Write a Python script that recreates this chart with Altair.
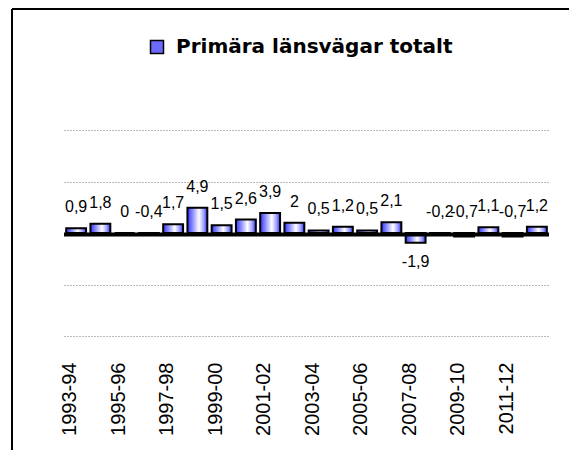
import altair as alt
import pandas as pd

TITLE = "Primära länsvägar totalt"
CATEGORIES = ["1993-94", "1994-95", "1995-96", "1996-97", "1997-98", "1998-99",
              "1999-00", "2000-01", "2001-02", "2002-03", "2003-04", "2004-05",
              "2005-06", "2006-07", "2007-08", "2008-09", "2009-10", "2010-11",
              "2011-12", "2012-13"]
VALUES = [0.9, 1.8, 0, -0.4, 1.7, 4.9, 1.5, 2.6, 3.9, 2, 0.5, 1.2, 0.5, 2.1,
          -1.9, -0.2, -0.7, 1.1, -0.7, 1.2]
GRID_VALUES = [-20, -10, 10, 20]
Y_DOMAIN = [-20, 20]
TICK_LABELS = CATEGORIES[::2]

FONT = "Liberation Sans, Arial, Helvetica, sans-serif"

df = pd.DataFrame({
    "cat": CATEGORIES,
    "v": VALUES,
    "lbl": [f"{v:g}".replace(".", ",") for v in VALUES],
})

base = alt.Chart(df)

x_enc = alt.X(
    "cat:N", sort=CATEGORIES,
    scale=alt.Scale(paddingInner=0.18, paddingOuter=0.09),
    axis=alt.Axis(values=TICK_LABELS, labelAngle=270, labelFont=FONT,
                  labelFontSize=20, labelColor="black", labelPadding=26,
                  labelOffset=-6, labelOverlap=False, ticks=False, domain=False,
                  grid=False, title=None),
)
y_enc = alt.Y(
    "v:Q",
    scale=alt.Scale(domain=Y_DOMAIN, nice=False, zero=True),
    axis=alt.Axis(values=GRID_VALUES, labels=False, ticks=False, domain=False,
                  grid=True, gridDash=[1, 2], gridColor="#777777", gridWidth=1,
                  title=None),
)

grad = alt.Gradient(
    gradient="linear", x1=0, x2=1, y1=0, y2=0,
    stops=[
        alt.GradientStop(color="#3333ff", offset=0),
        alt.GradientStop(color="#9a9aff", offset=0.3),
        alt.GradientStop(color="#ffffff", offset=0.58),
        alt.GradientStop(color="#a0a0ff", offset=0.82),
        alt.GradientStop(color="#3333ff", offset=1),
    ],
)

bars = base.mark_bar(color=grad, stroke="black", strokeWidth=2).encode(
    x=x_enc, y=y_enc
)

legend_layer = base.mark_square(opacity=0).transform_calculate(
    series=f"'{TITLE}'"
).encode(
    x=alt.X("cat:N", sort=CATEGORIES),
    y=alt.Y("v:Q"),
    color=alt.Color(
        "series:N",
        scale=alt.Scale(domain=[TITLE], range=["#6a6aff"]),
        legend=alt.Legend(
            orient="none", legendX=83, legendY=-93, title=None,
            symbolType="square", symbolSize=169, symbolStrokeColor="black",
            symbolStrokeWidth=1.5, symbolOpacity=1, labelFont="DejaVu Sans",
            labelFontSize=20, labelFontWeight="bold", labelColor="black",
            labelOffset=9, padding=0, labelLimit=500,
        ),
    ),
)

labels_up = base.transform_filter("datum.v >= -1").transform_calculate(
    ly="max(datum.v, 0)"
).mark_text(font=FONT, fontSize=16, color="black",
            baseline="alphabetic", dy=-16).encode(
    x=alt.X("cat:N", sort=CATEGORIES),
    y=alt.Y("ly:Q"),
    text="lbl:N",
)

labels_down = base.transform_filter("datum.v < -1").mark_text(
    font=FONT, fontSize=16, color="black",
    baseline="alphabetic", dy=24).encode(
    x=alt.X("cat:N", sort=CATEGORIES),
    y=alt.Y("v:Q"),
    text="lbl:N",
)

zero = alt.Chart(pd.DataFrame({"zero": [0]})).mark_rule(
    color="black", strokeWidth=4, yOffset=1.5
).encode(y=alt.Y("zero:Q"))

frame_data = pd.DataFrame({"f": [0]})
frame_top = alt.Chart(frame_data).mark_rule(color="black", strokeWidth=2).encode(
    x=alt.value(-52), x2=alt.value(505), y=alt.value(-121)
)
frame_left = alt.Chart(frame_data).mark_rule(color="black", strokeWidth=2).encode(
    x=alt.value(-52), y=alt.value(-121), y2=alt.value(320)
)

chart = alt.layer(
    bars, legend_layer, labels_up, labels_down, zero, frame_top, frame_left
).properties(
    width=485, height=206,
    padding={"left": 3, "top": 0, "right": 0, "bottom": 0},
).configure(background="white").configure_view(stroke=None)

chart.save("out.html", embed_options={"renderer": "svg", "actions": False})
